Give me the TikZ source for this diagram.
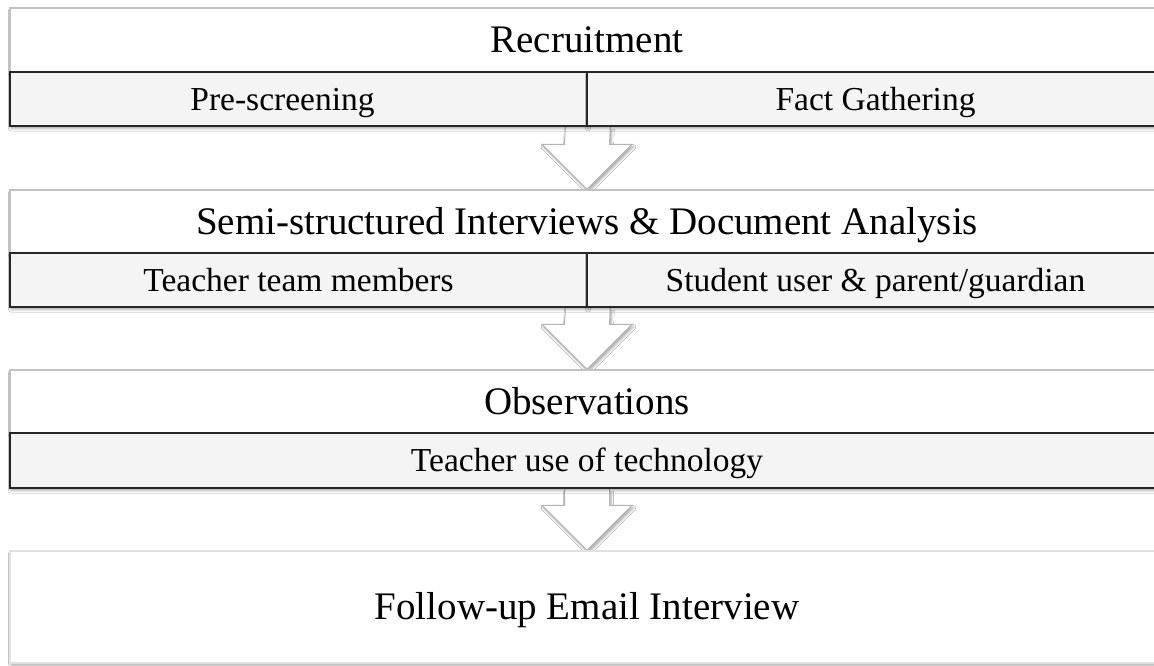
\documentclass[tikz,border=0pt]{standalone}
\usepackage{fontspec}
\setmainfont{Liberation Serif}
\usetikzlibrary{shadows.blur,backgrounds,calc}
\definecolor{subfill}{HTML}{F4F4F4}
\definecolor{hdrline}{HTML}{C2C2C2}
\definecolor{lastline}{HTML}{E2E2E2}
\definecolor{arrline}{HTML}{B4B4B4}
\begin{document}
\begin{tikzpicture}[x=1pt,y=-1pt,
  softshadow/.style={blur shadow={shadow xshift=1pt,shadow yshift=-2.5pt,shadow blur radius=2.5pt,shadow opacity=35}},
  hdr/.style={draw=hdrline,line width=1.2pt,fill=white,minimum width=1154pt,inner sep=0pt,
    text height=25.8pt,text depth=0pt,font=\fontsize{39}{41}\selectfont,softshadow},
  cell/.style={draw=black!85,line width=1.6pt,fill=subfill,minimum height=54pt,inner sep=0pt,
    text height=22.2pt,text depth=0pt,font=\fontsize{33.5}{36}\selectfont,softshadow},
  lastbox/.style={draw=lastline,line width=1.2pt,fill=white,minimum width=1154pt,minimum height=112pt,inner sep=0pt,
    text height=25.8pt,text depth=0pt,font=\fontsize{39}{41}\selectfont,softshadow},
  blockarrow/.style={draw=arrline,line width=1pt,fill=white,line join=miter,
    blur shadow={shadow xshift=1.5pt,shadow yshift=-2.5pt,shadow blur radius=2.5pt,shadow opacity=35}}
]
\useasboundingbox (0,0) rectangle (1154,665);

% stage 1
\node[hdr,minimum height=64pt] (h1) at (587,40) {Recruitment};
\node[cell,minimum width=577pt] (s1a) at (298.5,99) {Pre-screening\hspace*{32pt}};
\node[cell,minimum width=577pt] (s1b) at (875.5,99) {Fact Gathering};

% stage 2
\node[hdr,minimum height=63pt] (h2) at (587,221.5) {Semi-structured Interviews \& Document Analysis};
\node[cell,minimum width=577pt] (s2a) at (298.5,280) {Teacher team members};
\node[cell,minimum width=577pt] (s2b) at (875.5,280) {Student user \& parent/guardian};

% stage 3
\node[hdr,minimum height=63pt] (h3) at (587,401.5) {Observations};
\node[cell,minimum width=1154pt,minimum height=55pt] (s3) at (587,460.5) {Teacher use of technology};

% stage 4
\node[lastbox] (f4) at (587,607) {Follow-up Email Interview};

% background and block arrows
\begin{scope}[on background layer]
  \fill[white] (0,0) rectangle (1154,665);
  \foreach \p/\q in {s1a.south east/h2.north, s2a.south east/h3.north, s3.south/f4.north}{
    \draw[blockarrow] ($(\p)+(-22.5,0)$) -- ($(\q)+(-22.5,-45)$) -- ($(\q)+(-45,-45)$) -- (\q)
      -- ($(\q)+(45,-45)$) -- ($(\q)+(22.5,-45)$) -- ($(\p)+(22.5,0)$);
  }
\end{scope}
\end{tikzpicture}
\end{document}
